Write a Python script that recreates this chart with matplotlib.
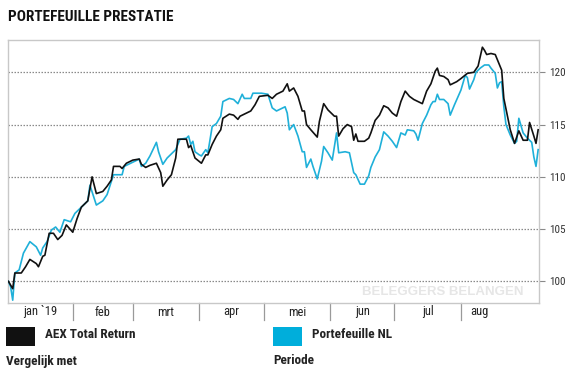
import matplotlib
matplotlib.use("Agg")
import matplotlib.pyplot as plt
from matplotlib import font_manager
import matplotlib.transforms as mtransforms
from matplotlib.patches import Rectangle

# ---- data (days since 1 Jan 2019, index value) ----
aex_days = [1, 3, 4, 7, 9, 11, 14, 15, 17, 18, 20, 22, 24, 26, 28, 31, 33, 35, 38, 40,
            42, 45, 47, 49, 50, 53, 54, 56, 59, 62, 63, 65, 67, 70, 72, 73, 75, 77, 79, 80,
            84, 85, 86, 88, 91, 93, 94, 96, 98, 100, 101, 104, 106, 108, 109, 111, 114, 116, 118, 122,
            124, 126, 129, 131, 132, 134, 136, 137, 138, 139, 140, 142, 145, 146, 148, 150, 153, 154, 155, 157,
            159, 161, 162, 163, 164, 167, 169, 170, 172, 174, 176, 178, 180, 182, 184, 186, 188, 190, 194, 196,
            198, 200, 201, 202, 204, 206, 207, 210, 212, 215, 218, 220, 221, 222, 223, 224, 226, 228, 230, 231,
            232, 234, 235, 237, 239, 241, 243, 244, 246, 247, 248]
aex_vals = [100.0, 99.3, 100.8, 100.8, 101.4, 102.1, 101.7, 101.4, 102.4, 102.5, 104.6, 104.6, 104.0, 104.4, 105.4, 104.7, 106.0, 107.1, 107.7, 110.0,
            108.4, 108.6, 109.1, 109.7, 111.0, 111.0, 110.8, 111.3, 111.6, 111.7, 111.2, 110.9, 111.1, 111.3, 110.4, 109.1, 109.7, 110.2, 111.8, 113.6,
            113.6, 112.8, 113.0, 111.8, 111.3, 112.1, 112.1, 113.1, 113.9, 114.5, 115.6, 116.0, 115.9, 115.5, 115.8, 116.0, 116.3, 116.9, 117.7, 117.8,
            117.5, 117.9, 118.2, 118.9, 118.2, 118.5, 117.7, 117.0, 116.3, 116.3, 115.0, 114.5, 113.8, 115.3, 117.0, 116.4, 115.8, 115.8, 113.9, 114.6,
            115.0, 114.8, 113.5, 114.1, 113.4, 113.4, 113.7, 114.2, 115.4, 115.9, 116.8, 116.6, 116.1, 115.8, 117.2, 118.2, 117.7, 117.4, 117.0, 118.2,
            118.9, 120.1, 120.4, 119.7, 119.6, 119.3, 118.8, 119.1, 119.4, 119.9, 120.0, 120.6, 121.5, 122.4, 122.1, 121.7, 121.8, 121.7, 120.7, 120.2,
            117.5, 115.5, 114.5, 113.2, 114.4, 113.5, 113.5, 115.2, 113.9, 113.2, 114.5]

pf_days = [1, 2, 3, 4, 6, 8, 11, 14, 16, 17, 19, 21, 23, 25, 27, 30, 32, 35, 38, 39,
           42, 45, 47, 50, 54, 55, 57, 60, 62, 63, 65, 67, 70, 71, 73, 75, 77, 79, 81, 84,
           85, 86, 87, 88, 90, 91, 93, 94, 96, 98, 100, 101, 104, 106, 108, 110, 111, 114, 115, 119,
           122, 124, 126, 129, 130, 131, 132, 134, 136, 138, 139, 140, 142, 143, 145, 147, 148, 150, 152, 154,
           155, 158, 160, 162, 163, 165, 167, 169, 170, 172, 174, 176, 178, 180, 182, 184, 186, 187, 190, 191,
           192, 194, 196, 198, 199, 200, 201, 202, 204, 206, 207, 209, 212, 214, 215, 216, 218, 219, 221, 223,
           225, 226, 228, 229, 230, 231, 232, 233, 235, 237, 238, 239, 241, 243, 245, 246, 247, 248]
pf_vals = [100.0, 99.5, 98.2, 100.8, 101.1, 102.7, 103.8, 103.3, 102.5, 103.2, 103.8, 104.9, 105.2, 104.7, 105.9, 105.7, 106.5, 107.1, 107.7, 109.2,
           107.3, 107.7, 108.3, 110.2, 110.2, 111.0, 111.2, 111.5, 111.7, 111.0, 111.3, 112.0, 113.3, 112.4, 111.2, 111.8, 112.2, 112.6, 113.6, 113.7,
           113.9, 113.1, 113.4, 112.4, 112.1, 112.0, 112.6, 112.3, 114.8, 115.1, 115.8, 117.2, 117.5, 117.4, 117.0, 117.9, 117.5, 117.5, 118.0, 118.0,
           117.9, 116.6, 116.3, 116.6, 116.7, 116.1, 114.5, 115.0, 113.9, 112.4, 112.4, 110.9, 111.7, 111.0, 109.8, 111.5, 112.9, 112.3, 111.6, 114.2,
           112.3, 112.4, 112.3, 110.4, 110.2, 109.3, 109.3, 110.1, 110.9, 111.9, 112.6, 114.3, 113.9, 113.4, 112.8, 114.2, 114.0, 114.5, 114.4, 114.1,
           113.5, 115.1, 115.9, 116.9, 117.2, 117.2, 117.9, 117.4, 117.4, 117.0, 115.9, 116.9, 118.3, 119.7, 119.5, 118.4, 119.3, 120.0, 120.4, 120.7,
           120.7, 120.4, 119.9, 118.5, 119.0, 119.1, 116.7, 115.0, 114.0, 113.2, 113.4, 115.6, 114.2, 113.7, 113.3, 111.9, 111.0, 112.6]

month_labels = ["jan `19", "feb", "mrt", "apr", "mei", "jun", "jul", "aug"]
month_starts = [1, 31, 59, 90, 120, 151, 181, 212]
last_label_end = 229
y_ticks = [100, 105, 110, 115, 120]

title = "PORTEFEUILLE PRESTATIE"
watermark = "BELEGGERS BELANGEN"
series_names = ["AEX Total Return", "Portefeuille NL"]
footer_labels = ["Vergelijk met", "Periode"]

# ---- fonts ----
names = {f.name for f in font_manager.fontManager.ttflist}
def pick(cands, default="Liberation Sans"):
    for c in cands:
        if c in names:
            return c
    return default
bold_font = pick(["Liberation Sans Narrow", "Arial Narrow", "Roboto Condensed", "Barlow Semi Condensed", "Barlow Condensed"])
reg_font = pick(["Liberation Sans Narrow", "Arial Narrow", "Roboto Condensed", "Archivo Narrow", "Barlow Semi Condensed"])

BLACK = "#111111"
CYAN = "#1fb0d9"
GRID = "#8a8a8a"
FRAME = "#c8c8c8"

W, H = 567, 370
fig = plt.figure(figsize=(W / 100, H / 100), dpi=100)
fig.patch.set_facecolor("white")

L, R, T, B = 8, 539, 40, 303
ax = fig.add_axes([L / W, 1 - B / H, (R - L) / W, (B - T) / H])
ax.set_xlim(0.8, 248.4)
ax.set_ylim(97.93, 123.09)

for s in ax.spines.values():
    s.set_color(FRAME)
    s.set_linewidth(1.0)

ax.yaxis.tick_right()
ax.set_yticks(y_ticks)
ax.set_yticklabels([str(v) for v in y_ticks], fontfamily=reg_font, fontsize=8, color="#333333")
ax.tick_params(axis="y", length=4, width=0.8, color=GRID, pad=3)
ax.set_xticks([])
for v in y_ticks:
    ax.axhline(v, color=GRID, lw=0.9, ls=(0, (1.2, 1.2)), zorder=1)

# watermark
ax.text(0.97, 0.018, watermark, transform=ax.transAxes, ha="right", va="bottom",
        fontfamily="Liberation Sans", fontweight="bold", fontsize=9.5, color="#e6e6e6", zorder=0)

ax.plot(pf_days, pf_vals, color=CYAN, lw=1.2, zorder=3, solid_joinstyle="round")
ax.plot(aex_days, aex_vals, color=BLACK, lw=1.2, zorder=4, solid_joinstyle="round")

# month separators and labels below axes
trans = mtransforms.blended_transform_factory(ax.transData, ax.transAxes)
sep_len = 17 / (B - T)
for d in month_starts[1:]:
    ax.plot([d, d], [0, -sep_len], transform=trans, color="#9a9a9a", lw=0.9, clip_on=False)
ends = month_starts[1:] + [last_label_end]
for lab, s, e in zip(month_labels, month_starts, ends):
    ax.text((s + e) / 2, -9 / (B - T), lab, transform=trans, ha="center", va="center",
            fontfamily=reg_font, fontsize=9, color="#222222")

# title
fig.text(8 / W, 1 - 17 / H, title, ha="left", va="center", fontfamily=bold_font,
         fontweight="bold", fontsize=11, color="#111111")

# legend boxes
fig.patches.append(Rectangle((6 / W, 1 - 346 / H), 29 / W, 19 / H, transform=fig.transFigure,
                             facecolor=BLACK, edgecolor="none"))
fig.patches.append(Rectangle((273 / W, 1 - 346 / H), 29 / W, 19 / H, transform=fig.transFigure,
                             facecolor="#00aedb", edgecolor="none"))
for xx, yy, s in [(45, 335, series_names[0]), (312, 335, series_names[1]),
                  (6, 361, footer_labels[0]), (273, 361, footer_labels[1])]:
    fig.text(xx / W, 1 - yy / H, s, ha="left", va="center", fontfamily=bold_font,
             fontweight="bold", fontsize=9.5, color="#222222")

fig.savefig("out.png", dpi=100, facecolor="white")
